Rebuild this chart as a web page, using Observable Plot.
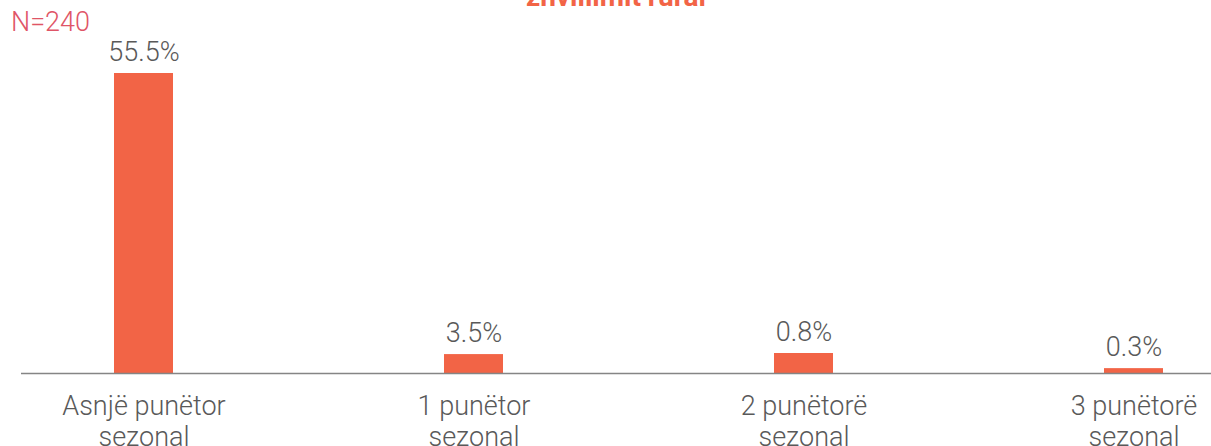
<!DOCTYPE html>
<html>
<head>
<meta charset="utf-8">
<script src="https://cdn.jsdelivr.net/npm/d3@7"></script>
<script src="https://cdn.jsdelivr.net/npm/@observablehq/plot@0.6"></script>
<style>
  html, body { margin: 0; padding: 0; background: #fff; overflow: hidden; }
  #wrap { position: relative; width: 1211px; height: 446px; font-family: Roboto, sans-serif; }
  #title { position: absolute; left: 0; width: 1232px; top: -17px; text-align: center; font-size: 28px; line-height: 1; font-weight: 700; color: #F26446; white-space: nowrap; }
  #n { position: absolute; left: 11px; top: 9px; font-size: 27px; line-height: 1; font-weight: 300; color: #DF5567; }
  svg text { font-weight: 300; }
</style>
</head>
<body>
<div id="wrap">
  <div id="chart"></div>
  <div id="title">zhvillimit rural</div>
  <div id="n">N=240</div>
</div>
<script>
const categories = ["Asnjë punëtor\nsezonal", "1 punëtor\nsezonal", "2 punëtorë\nsezonal", "3 punëtorë\nsezonal"];
const barValues = [55.5, 3.5, 3.7, 0.9];
const valueLabels = ["55.5%", "3.5%", "0.8%", "0.3%"];

const data = categories.map((c, i) => ({cat: c, value: barValues[i], label: valueLabels[i]}));

const chart = Plot.plot({
  width: 1211,
  height: 446,
  marginTop: 73,
  marginBottom: 73,
  marginLeft: 21,
  marginRight: 0,
  style: {fontFamily: "Roboto, sans-serif", color: "#595959", background: "transparent", overflow: "hidden"},
  x: {domain: categories, range: [21, 1255], paddingInner: 0.8218, paddingOuter: 0.275, align: 0.5, label: null},
  y: {domain: [0, 55.5], axis: null},
  marks: [
    Plot.barY(data, {x: "cat", y: "value", fill: "#F26446"}),
    Plot.ruleY([0], {stroke: "#858585", strokeWidth: 1.3}),
    Plot.text(data, {x: "cat", y: "value", text: "label", lineAnchor: "bottom", dy: -13, fontSize: 27, fill: "#595959"}),
    Plot.axisX({tickSize: 0, tickPadding: 19, fontSize: 27, lineHeight: 1.15, fill: "#595959", label: null})
  ]
});
document.getElementById("chart").appendChild(chart);
</script>
</body>
</html>
